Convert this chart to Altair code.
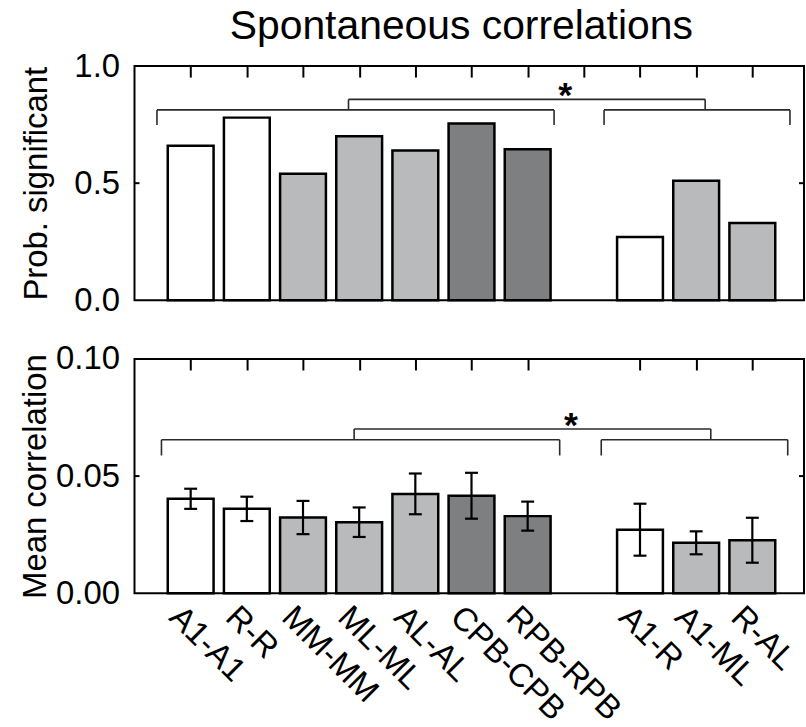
import json
import altair as alt
import pandas as pd

# ---------------- data ----------------
categories = ["A1-A1", "R-R", "MM-MM", "ML-ML", "AL-AL", "CPB-CPB", "RPB-RPB",
              "A1-R", "A1-ML", "R-AL"]
groups = ["within"] * 7 + ["between"] * 3
shades = ["white", "white", "light", "light", "light", "dark", "dark",
          "white", "light", "light"]
prob_significant = [0.66, 0.78, 0.54, 0.70, 0.64, 0.755, 0.645, 0.27, 0.51, 0.33]
mean_correlation = [0.0403, 0.0360, 0.0323, 0.0303, 0.0424, 0.0416, 0.0329,
                    0.0271, 0.0215, 0.0226]
sem_correlation = [0.0043, 0.0052, 0.0071, 0.0063, 0.0087, 0.0098, 0.0062,
                   0.0111, 0.0049, 0.0096]

y_ticks_top = [0.0, 0.5, 1.0]
y_ticks_bottom = [0.00, 0.05, 0.10]

shade_domain = ["white", "light", "dark"]
shade_range = ["#ffffff", "#b9babc", "#7e7f81"]

# significance brackets (x in category-slot units, y in data units)
brackets_top = {"spans": [(0.40, 7.47), (8.36, 11.67)], "level": 0.813, "leg": 0.749,
                "link": (3.81, 10.16), "link_level": 0.858, "star": (7.67, 0.825)}
brackets_bottom = {"spans": [(0.48, 7.57), (8.31, 11.63)], "level": 0.0655, "leg": 0.0588,
                   "link": (3.91, 10.26), "link_level": 0.0701, "star": (7.77, 0.0665)}

# ---------------- layout helpers ----------------
W, H = 672, 235
XMAX = 11.92
HALF_BAR = 0.408
HALF_CAP = 0.115
FONT = "Liberation Sans"
TICK_PX = 11
SIDE_PX = 5

positions = []
slot = 0
prev = None
for g in groups:
    slot += 1
    if prev is not None and g != prev:
        slot += 1
    positions.append(slot)
    prev = g
all_slots = list(range(1, max(positions) + 1))

df = pd.DataFrame({
    "category": categories,
    "shade": shades,
    "pos": positions,
    "prob": prob_significant,
    "mean": mean_correlation,
    "sem": sem_correlation,
})
df["zero"] = 0.0
df["x0"] = df["pos"] - HALF_BAR
df["x1"] = df["pos"] + HALF_BAR
df["c0"] = df["pos"] - HALF_CAP
df["c1"] = df["pos"] + HALF_CAP
df["lo"] = df["mean"] - df["sem"]
df["hi"] = df["mean"] + df["sem"]

labels_by_pos = [""] * (max(positions) + 1)
for p, c in zip(positions, categories):
    labels_by_pos[p] = c
label_expr = json.dumps(labels_by_pos) + "[datum.value]"

xs = alt.Scale(domain=[0, XMAX], nice=False, zero=False)
fill = alt.Fill("shade:N", scale=alt.Scale(domain=shade_domain, range=shade_range), legend=None)


def bracket_df(b):
    rows = []
    for a, e in b["spans"]:
        rows.append((a, e, b["level"], b["level"]))
        rows.append((a, a, b["level"], b["leg"]))
        rows.append((e, e, b["level"], b["leg"]))
    l0, l1 = b["link"]
    rows.append((l0, l1, b["link_level"], b["link_level"]))
    rows.append((l0, l0, b["link_level"], b["level"]))
    rows.append((l1, l1, b["link_level"], b["level"]))
    return pd.DataFrame(rows, columns=["x", "x2", "y", "y2"])


def annotations(mid, slots, b, yscale, yaxis):
    # inward ticks along the top edge: a top axis pulled inside the frame
    top_axis = alt.Axis(orient="top", values=slots, labels=False, domain=False, ticks=True,
                        tickSize=TICK_PX, tickWidth=2, tickColor="black", offset=-TICK_PX,
                        grid=False, title=None)
    ticks = alt.Chart(pd.DataFrame({"x": slots})).mark_point(opacity=0, size=1).encode(
        x=alt.X("x:Q", scale=xs, axis=top_axis),
        y=alt.value(0))
    # inward ticks at the middle value, on the left and right edges
    side_l = alt.Chart(pd.DataFrame({"y": [mid]})).mark_rule(color="black", strokeWidth=2).encode(
        x=alt.value(0), x2=alt.value(SIDE_PX),
        y=alt.Y("y:Q", scale=yscale, axis=yaxis))
    side_r = alt.Chart(pd.DataFrame({"y": [mid]})).mark_rule(color="black", strokeWidth=2).encode(
        x=alt.value(W - SIDE_PX), x2=alt.value(W),
        y=alt.Y("y:Q", scale=yscale, axis=yaxis))
    br = alt.Chart(bracket_df(b)).mark_rule(color="#2a2a2a", strokeWidth=1.6).encode(
        x=alt.X("x:Q", scale=xs, axis=None), x2="x2:Q",
        y=alt.Y("y:Q", scale=yscale, axis=yaxis), y2="y2:Q")
    star = alt.Chart(pd.DataFrame({"x": [b["star"][0]], "y": [b["star"][1]], "t": ["*"]})).mark_text(
        font=FONT, fontSize=36, fontWeight="bold", baseline="alphabetic", align="center",
        color="black").encode(
        x=alt.X("x:Q", scale=xs, axis=None),
        y=alt.Y("y:Q", scale=yscale, axis=yaxis), text="t:N")
    return [ticks, side_l, side_r, br, star]


# ---------------- top panel ----------------
ys_top = alt.Scale(domain=[0, 1], nice=False)
yaxis_top = alt.Axis(values=y_ticks_top, format=".1f", title="Prob. significant", titlePadding=20)
bars_top = alt.Chart(df).mark_bar(stroke="black", strokeWidth=2.5).encode(
    x=alt.X("x0:Q", scale=xs, axis=None),
    x2="x1:Q",
    y=alt.Y("prob:Q", scale=ys_top, axis=yaxis_top),
    y2="zero:Q",
    fill=fill,
)
top = alt.layer(bars_top, *annotations(0.5, all_slots, brackets_top,
                                       ys_top, yaxis_top)).resolve_axis(x="independent").properties(
    width=W, height=H,
    title=alt.Title("Spontaneous correlations", font=FONT, fontSize=41, fontWeight="normal",
                    color="black", anchor="middle", frame="group", offset=2, dx=-8),
)

# ---------------- bottom panel ----------------
ys_bot = alt.Scale(domain=[0, 0.1], nice=False)
yaxis_bot = alt.Axis(values=y_ticks_bottom, format=".2f", title="Mean correlation", titlePadding=3)
xaxis_bot = alt.Axis(values=positions, labelExpr=label_expr, labelAngle=45,
                     labelAlign="left", labelBaseline="top", labelPadding=7,
                     labelFontSize=33, labelFlush=False, labelOverlap=False,
                     labelBound=False, labelOffset=-5, title=None)
bars_bot = alt.Chart(df).mark_bar(stroke="black", strokeWidth=2.5).encode(
    x=alt.X("x0:Q", scale=xs, axis=xaxis_bot),
    x2="x1:Q",
    y=alt.Y("mean:Q", scale=ys_bot, axis=yaxis_bot),
    y2="zero:Q",
    fill=fill,
)
err = alt.Chart(df).mark_rule(color="black", strokeWidth=2.2).encode(
    x=alt.X("pos:Q", scale=xs, axis=None),
    y=alt.Y("lo:Q", scale=ys_bot, axis=yaxis_bot), y2="hi:Q")
cap_lo = alt.Chart(df).mark_rule(color="black", strokeWidth=2.2).encode(
    x=alt.X("c0:Q", scale=xs, axis=None), x2="c1:Q",
    y=alt.Y("lo:Q", scale=ys_bot, axis=yaxis_bot))
cap_hi = alt.Chart(df).mark_rule(color="black", strokeWidth=2.2).encode(
    x=alt.X("c0:Q", scale=xs, axis=None), x2="c1:Q",
    y=alt.Y("hi:Q", scale=ys_bot, axis=yaxis_bot))
bottom = alt.layer(bars_bot, err, cap_lo, cap_hi,
                   *annotations(0.05, positions, brackets_bottom,
                                ys_bot, yaxis_bot)).resolve_axis(x="independent").properties(
    width=W, height=H)

chart = alt.vconcat(top, bottom, spacing=24).properties(
    padding={"left": 18, "top": 4, "right": 0, "bottom": 0},
    background="white",
).configure_view(
    stroke="black", strokeWidth=2,
).configure_axis(
    labelFont=FONT, titleFont=FONT, labelFontSize=33, titleFontSize=33,
    labelColor="black", titleColor="black", titleFontWeight="normal",
    grid=False, ticks=False, tickSize=0, domain=False, labelPadding=15,
)

chart.save("out.html", embed_options={"renderer": "svg", "actions": False})
